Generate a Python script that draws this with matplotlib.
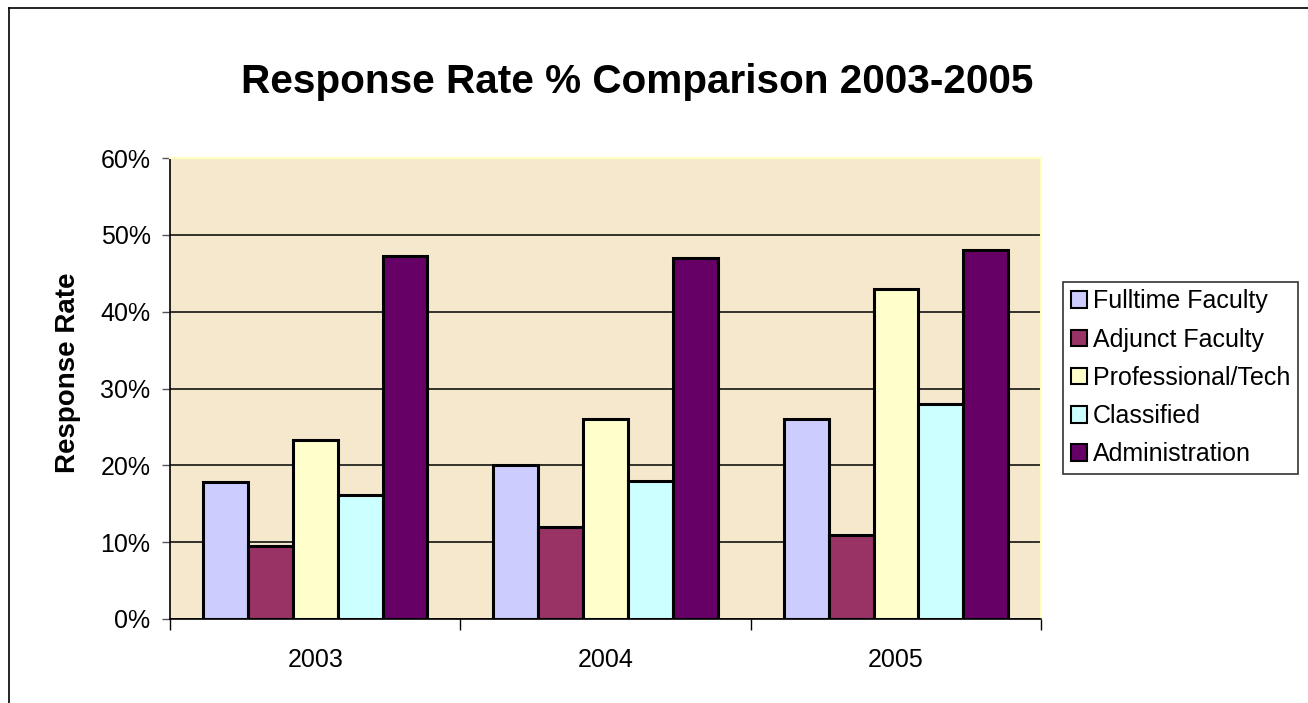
# Response rate comparison chart

import numpy as np
import matplotlib.pyplot as plt
from matplotlib.lines import Line2D

plt.rcParams['font.family'] = ['Liberation Sans', 'DejaVu Sans']

# Data
years = ["2003", "2004", "2005"]
groups = ["Fulltime Faculty", "Adjunct Faculty", "Professional/Tech", "Classified", "Administration"]
fulltime = [0.178, 0.20, 0.26]
adjunct = [0.095, 0.12, 0.11]
professional = [0.233, 0.26, 0.43]
classified = [0.161, 0.18, 0.28]
administration = [0.472, 0.47, 0.48]
colors = ["#CCCCFF", "#993366", "#FFFFCC", "#CCFFFF", "#660066"]
yticks = [0, 0.1, 0.2, 0.3, 0.4, 0.5, 0.6]

series = [fulltime, adjunct, professional, classified, administration]

fig = plt.figure(figsize=(13.08, 7.03), dpi=100)
ax = fig.add_axes([0.130, 0.1195, 0.666, 0.6555])
ax.set_facecolor("#F6E8CC")

x = np.arange(len(years))
w = 0.1545
for i, vals in enumerate(series):
    ax.bar(x + (i - 2) * w, vals, w, color=colors[i], edgecolor="black",
           linewidth=2.2, label=groups[i], zorder=3)

ax.set_xlim(-0.5, 2.5)
ax.set_ylim(0, 0.6)
ax.set_yticks(yticks)
ax.set_yticklabels([f"{int(round(t * 100))}%" for t in yticks], fontsize=18)
ax.yaxis.grid(True, color="black", linewidth=1.1, zorder=1)

# category boundary ticks, labels in the middle
ax.set_xticks([-0.5, 0.5, 1.5, 2.5])
ax.set_xticklabels([])
ax.set_xticks(x, minor=True)
ax.set_xticklabels(years, minor=True, fontsize=18)
ax.tick_params(axis="x", which="major", length=8, width=1, color="black")
ax.tick_params(axis="x", which="minor", length=0, pad=21)
ax.tick_params(axis="y", length=6, width=1, color="#555555", pad=8)

for side in ["top", "right"]:
    ax.spines[side].set_color("#FFFFC0")
    ax.spines[side].set_linewidth(1.5)
for side in ["left", "bottom"]:
    ax.spines[side].set_color("black")
    ax.spines[side].set_linewidth(1.2)

fig.text(0.487, 0.884, "Response Rate % Comparison 2003-2005", fontsize=29.2,
         fontweight="bold", ha="center", va="center")
fig.text(0.052, 0.47, "Response Rate", fontsize=20, fontweight="bold",
         rotation=90, ha="center", va="center")

leg = ax.legend(loc="upper left", bbox_to_anchor=(0.8127, 0.599),
                bbox_transform=fig.transFigure, fontsize=18, frameon=True,
                fancybox=False, edgecolor="black", handlelength=0.65,
                handleheight=0.65, handletextpad=0.25, labelspacing=0.57,
                borderpad=0.3, borderaxespad=0)
leg.get_frame().set_linewidth(1.2)
for h in leg.legend_handles:
    h.set_linewidth(1.5)

# outer chart border (top and left visible)
fig.add_artist(Line2D([9 / 1308, 1.0], [1 - 8 / 703, 1 - 8 / 703],
                      transform=fig.transFigure, color="black", linewidth=1.2))
fig.add_artist(Line2D([9 / 1308, 9 / 1308], [0.0, 1 - 8 / 703],
                      transform=fig.transFigure, color="black", linewidth=1.2))

plt.savefig("out.png", dpi=100)
